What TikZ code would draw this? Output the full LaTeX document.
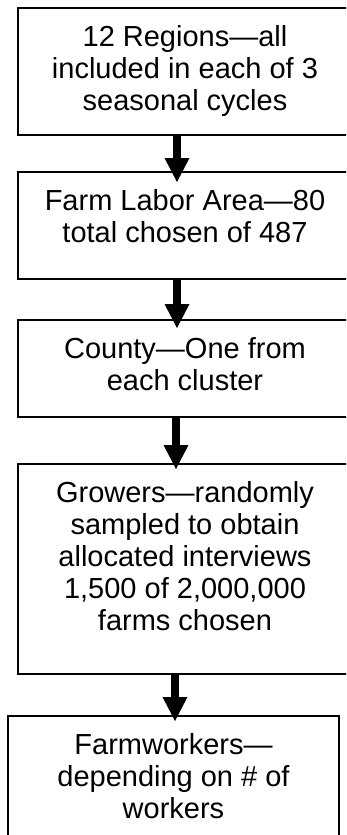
\documentclass[tikz,border=0pt]{standalone}
\usepackage{fontspec}
\setmainfont{Liberation Sans}
\usetikzlibrary{arrows.meta,calc}
\newcommand{\bxt}[3]{\parbox[c][#2][t]{#1}{\centering\rule{0pt}{38pt}#3}}
\begin{document}
\begin{tikzpicture}[x=1pt,y=-1pt,
  box/.style={draw,line width=2pt,inner sep=0pt,outer sep=0pt,anchor=north west,
    font=\fontsize{29}{32}\selectfont},
  bigarrow/.style={line width=8pt,-{Triangle[width=25pt,length=24pt,line width=0pt]}}]
\path[use as bounding box, fill=white] (0,0) rectangle (346,835);
\clip (0,0) rectangle (346,835);
\node[box] (b1) at (18,8) {\bxt{334pt}{127pt}{12 Regions—all\\included in each of 3\\seasonal cycles}};
\node[box] (b2) at (18,172) {\bxt{334pt}{107pt}{Farm Labor Area—80\\total chosen of 487}};
\node[box] (b3) at (18,320) {\bxt{334pt}{97pt}{County—One from\\each cluster}};
\node[box] (b4) at (18,464) {\bxt{334pt}{210pt}{Growers—randomly\\sampled to obtain\\allocated interviews\\1,500 of 2,000,000\\farms chosen}};
\node[box] (b5) at (8,716) {\bxt{331pt}{150pt}{Farmworkers—\\depending on \# of\\workers}};
\coordinate (a1) at (177,0);
\coordinate (a2) at (177,0);
\coordinate (a3) at (176,0);
\coordinate (a4) at (175,0);
\draw[bigarrow] (b1.south -| a1) -- ($(b2.north -| a1)+(0,10)$);
\draw[bigarrow] (b2.south -| a2) -- ($(b3.north -| a2)+(0,8)$);
\draw[bigarrow] (b3.south -| a3) -- ($(b4.north -| a3)+(0,5)$);
\draw[bigarrow] (b4.south -| a4) -- ($(b5.north -| a4)+(0,5)$);
\end{tikzpicture}
\end{document}
